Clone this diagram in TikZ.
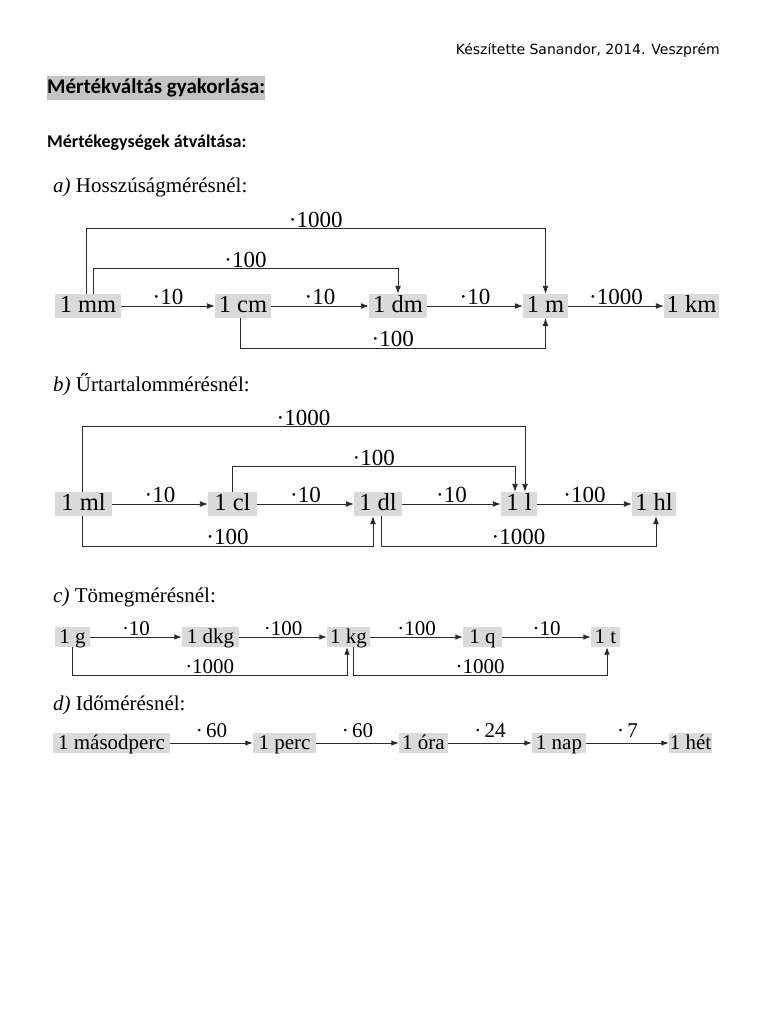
\documentclass[tikz,border=0pt]{standalone}
\usepackage{fontspec}
\setmainfont{Liberation Serif}
\newfontfamily\hdrfont{DejaVu Sans}
\newfontfamily\calfont{Carlito}
\usetikzlibrary{arrows.meta}
\definecolor{boxgray}{HTML}{DADADA}
\definecolor{hlgray}{HTML}{C4C4C4}
\definecolor{linegray}{HTML}{2A2A2A}
\begin{document}
\begin{tikzpicture}[x=1pt,y=-1pt,
  unitbig/.style={fill=boxgray, inner sep=0pt, minimum height=24pt, text height=15pt, text depth=2pt, font=\fontsize{24.5}{24.5}\selectfont},
  unitsmall/.style={fill=boxgray, inner sep=0pt, minimum height=20pt, text height=13pt, text depth=1pt, font=\fontsize{21}{21}\selectfont},
  conn/.style={draw=linegray, line width=0.9pt, -{Latex[length=8pt,width=6pt]}},
  connsmall/.style={draw=linegray, line width=0.9pt, -{Latex[length=7.5pt,width=5.5pt]}},
  lbl/.style={above, inner sep=1pt, font=\fontsize{23}{23}\selectfont, text=black},
  lblsmall/.style={above, inner sep=1pt, font=\fontsize{21}{21}\selectfont, text=black},
  lbltime/.style={above=4pt, inner sep=1pt, font=\fontsize{21}{21}\selectfont, text=black},
  heading/.style={anchor=west, inner sep=0pt, font=\fontsize{21}{21}\selectfont}]
\useasboundingbox[fill=white] (0,0) rectangle (768,1024);

% header
\node[anchor=east, inner sep=0pt, font=\hdrfont\fontsize{14}{14}\selectfont] (hdr) at (720,50) {Készítette Sanandor, 2014. Veszprém};
\node[anchor=west, fill=hlgray, inner xsep=0pt, inner ysep=0pt, minimum height=24pt, font=\calfont\bfseries\fontsize{21}{21}\selectfont] (title) at (47,88) {Mértékváltás gyakorlása:};
\node[anchor=west, inner sep=0pt, font=\calfont\bfseries\fontsize{18}{18}\selectfont] (sub) at (47,143) {Mértékegységek átváltása:};

% a)
\node[heading] (ha) at (53,187) {\textit{a)} Hosszúságmérésnél:};
\node[unitbig, minimum width=66pt] (mm) at (88,306) {1 mm};
\node[unitbig, minimum width=56pt] (cm) at (243,306) {1 cm};
\node[unitbig, minimum width=58pt] (dm) at (398,306) {1 dm};
\node[unitbig, minimum width=45pt] (m) at (545.5,306) {1 m};
\node[unitbig, minimum width=55pt] (km) at (691.5,306) {1 km};
\draw[conn] (mm.east) -- node[lbl]{·10} (cm.west);
\draw[conn] (cm.east) -- node[lbl]{·10} (dm.west);
\draw[conn] (dm.east) -- node[lbl]{·10} (m.west);
\draw[conn] (m.east) -- node[lbl]{·1000} (km.west);
\draw[conn] ([xshift=-2pt]mm.north) -- ++(0,-65) -| node[lbl,pos=0.25]{·1000} (m.north);
\draw[conn] ([xshift=5pt]mm.north) -- ++(0,-25) -| node[lbl,pos=0.25]{·100} (dm.north);
\draw[conn] ([xshift=-3pt]cm.south) -- ++(0,30) -| node[lbl,pos=0.25]{·100} (m.south);

% b)
\node[heading] (hb) at (53,385) {\textit{b)} Űrtartalommérésnél:};
\node[unitbig, minimum width=57pt] (ml) at (83.5,504) {1 ml};
\node[unitbig, minimum width=49pt] (cl) at (232.5,504) {1 cl};
\node[unitbig, minimum width=48pt] (dl) at (378,504) {1 dl};
\node[unitbig, minimum width=36pt] (l) at (519,504) {1 l};
\node[unitbig, minimum width=44pt] (hl) at (654,504) {1 hl};
\draw[conn] (ml.east) -- node[lbl]{·10} (cl.west);
\draw[conn] (cl.east) -- node[lbl]{·10} (dl.west);
\draw[conn] (dl.east) -- node[lbl]{·10} (l.west);
\draw[conn] (l.east) -- node[lbl]{·100} (hl.west);
\draw[conn] ([xshift=-1.5pt]ml.north) -- ++(0,-65) -| node[lbl,pos=0.25]{·1000} ([xshift=6pt]l.north);
\draw[conn] (cl.north) -- ++(0,-25) -| node[lbl,pos=0.25]{·100} ([xshift=-4pt]l.north);
\draw[conn] ([xshift=-1.5pt]ml.south) -- ++(0,30) -| node[lbl,pos=0.25]{·100} ([xshift=-5pt]dl.south);
\draw[conn] ([xshift=3pt]dl.south) -- ++(0,30) -| node[lbl,pos=0.25]{·1000} ([xshift=2pt]hl.south);

% c)
\node[heading] (hc) at (53,597) {\textit{c)} Tömegmérésnél:};
\node[unitsmall, minimum width=35pt] (g) at (72.5,637) {1 g};
\node[unitsmall, minimum width=57pt] (dkg) at (210.5,637) {1 dkg};
\node[unitsmall, minimum width=43pt] (kg) at (348.5,637) {1 kg};
\node[unitsmall, minimum width=39pt] (q) at (482.5,637) {1 q};
\node[unitsmall, minimum width=29pt] (t) at (605.5,637) {1 t};
\draw[connsmall] (g.east) -- node[lblsmall]{·10} (dkg.west);
\draw[connsmall] (dkg.east) -- node[lblsmall]{·100} (kg.west);
\draw[connsmall] (kg.east) -- node[lblsmall]{·100} (q.west);
\draw[connsmall] (q.east) -- node[lblsmall]{·10} (t.west);
\draw[connsmall] (g.south) -- ++(0,28) -| node[lblsmall,pos=0.25]{·1000} ([xshift=-1.5pt]kg.south);
\draw[connsmall] ([xshift=4.5pt]kg.south) -- ++(0,28) -| node[lblsmall,pos=0.25]{·1000} ([xshift=1.5pt]t.south);

% d)
\node[heading] (hd) at (53,705) {\textit{d)} Időmérésnél:};
\node[unitsmall, minimum width=117pt] (mp) at (111.5,743) {1 másodperc};
\node[unitsmall, minimum width=63pt] (perc) at (284.5,743) {1 perc};
\node[unitsmall, minimum width=49pt] (ora) at (423.5,743) {1 óra};
\node[unitsmall, minimum width=54pt] (nap) at (559,743) {1 nap};
\node[unitsmall, minimum width=43pt] (het) at (690.5,743) {1 hét};
\draw[connsmall] (mp.east) -- node[lbltime]{·\,60} (perc.west);
\draw[connsmall] (perc.east) -- node[lbltime]{·\,60} (ora.west);
\draw[connsmall] (ora.east) -- node[lbltime]{·\,24} (nap.west);
\draw[connsmall] (nap.east) -- node[lbltime]{·\,7} (het.west);
\end{tikzpicture}
\end{document}
